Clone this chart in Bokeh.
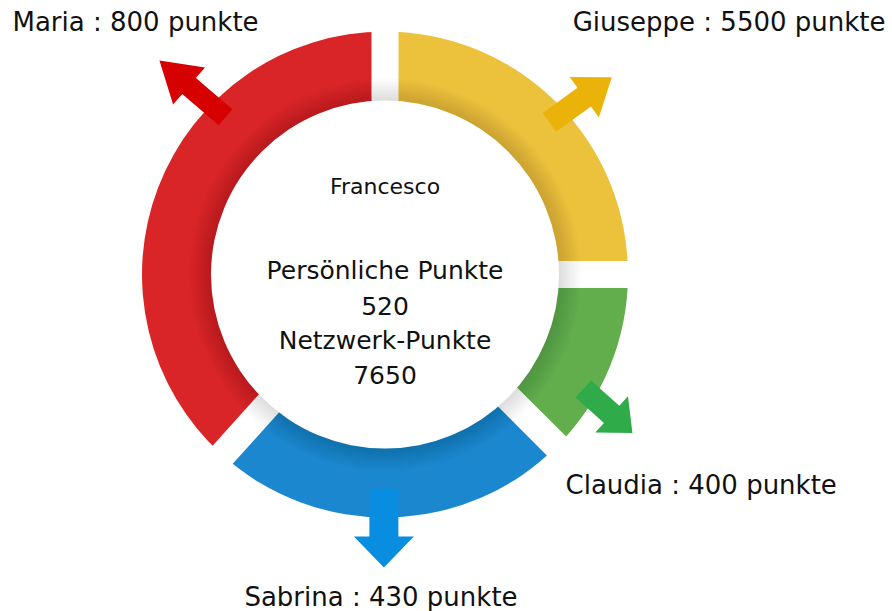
import numpy as np
from bokeh.plotting import figure
from bokeh.models import Range1d
from bokeh.core.properties import value
from bokeh.embed import file_html
from bokeh.resources import INLINE

# ---- data ----
names = ["Giuseppe", "Claudia", "Sabrina", "Maria"]
points = [5500, 400, 430, 800]
span_deg = [90, 45, 87, 138]          # clockwise from 12 o'clock
ring_colors = ["#ecc23d", "#63ae4c", "#1b87ce", "#d92528"]
arrow_colors = ["#ebb30a", "#2fab4a", "#098de0", "#d60000"]
center_name = "Francesco"
personal_label = "Persönliche Punkte"
personal_points = 520
network_label = "Netzwerk-Punkte"
network_points = 7650

FONT = value("DejaVu Sans")

# ---- geometry / style ----
R_OUT, R_IN, R_WHITE, GAP = 243, 150, 174, 27
CX, CY = 384.5, 274  # ring centre in page pixels
TEXT_SHIFT = 9       # baseline correction
# arrow: base radius, base angle, direction, length, shaft w, head w, head len
arrow_style = [
    (224, 42.8, 35.8, 77, 23, 50, 34),
    (229, -30.0, -41.9, 66, 23, 49, 28),
    (214, -90.3, -90.0, 79, 29, 60, 31),
    (224, 135.4, 139.4, 87, 21, 49, 39),
]
# label anchor (page x, page baseline y, align)
label_style = [
    (885, 30, "right"),
    (565, 493, "left"),
    (380.5, 605, "center"),
    (12, 30, "left"),
]

p = figure(width=892, height=611, x_range=Range1d(-CX, 892 - CX),
           y_range=Range1d(CY - 611, CY), output_backend="svg",
           toolbar_location=None, min_border=0,
           x_axis_location=None, y_axis_location=None,
           outline_line_color=None, background_fill_color="white",
           border_fill_color="white")
p.xgrid.visible = False
p.ygrid.visible = False

# ring segments
bounds = 90 - np.concatenate([[0], np.cumsum(span_deg)])
starts = np.radians(bounds[1:])
ends = np.radians(bounds[:-1])
p.annular_wedge(x=0, y=0, inner_radius=R_IN, outer_radius=R_OUT,
                start_angle=starts, end_angle=ends, fill_color=ring_colors,
                line_color=None)

# parallel gaps
for b in bounds[:-1]:
    p.ray(x=0, y=0, length=R_OUT + 10, angle=np.radians(b), line_width=GAP,
          line_color="white", line_cap="butt")

# soft shadow around centre disc
for r in range(R_WHITE + 22, R_WHITE, -2):
    p.circle(x=0, y=0, radius=r, fill_color="black", fill_alpha=0.013,
             line_color=None)
p.circle(x=0, y=0, radius=R_WHITE, fill_color="white", line_color=None)

# arrows
xs, ys = [], []
for (rb, tb, d, L, w, hw, hl) in arrow_style:
    bx, by = rb * np.cos(np.radians(tb)), rb * np.sin(np.radians(tb))
    ux, uy = np.cos(np.radians(d)), np.sin(np.radians(d))
    nx, ny = -uy, ux
    sl = L - hl
    pts = [(0, -w / 2), (sl, -w / 2), (sl, -hw / 2), (L, 0),
           (sl, hw / 2), (sl, w / 2), (0, w / 2)]
    xs.append([bx + a * ux + b * nx for a, b in pts])
    ys.append([by + a * uy + b * ny for a, b in pts])
p.patches(xs, ys, fill_color=arrow_colors, line_color=None)

# outer labels
for n, pt, (lx, ly, al) in zip(names, points, label_style):
    p.text(x=[lx - CX], y=[CY - ly + TEXT_SHIFT], text=[f"{n} : {pt} punkte"],
           text_font=FONT, text_font_size="26px", text_align=al,
           text_baseline="alphabetic", text_color="#111111")

# centre texts
p.text(x=[0], y=[CY - 195 + TEXT_SHIFT], text=[center_name], text_font=FONT,
       text_font_size="22px", text_align="center", text_baseline="alphabetic",
       text_color="#111111")
center_lines = [personal_label, str(personal_points), network_label,
                str(network_points)]
p.text(x=[0] * 4,
       y=[CY - b + TEXT_SHIFT for b in (279, 314, 349, 383)],
       text=center_lines, text_font=FONT, text_font_size="25px",
       text_align="center", text_baseline="alphabetic", text_color="#111111")

open("out.html", "w").write(file_html(p, INLINE))
